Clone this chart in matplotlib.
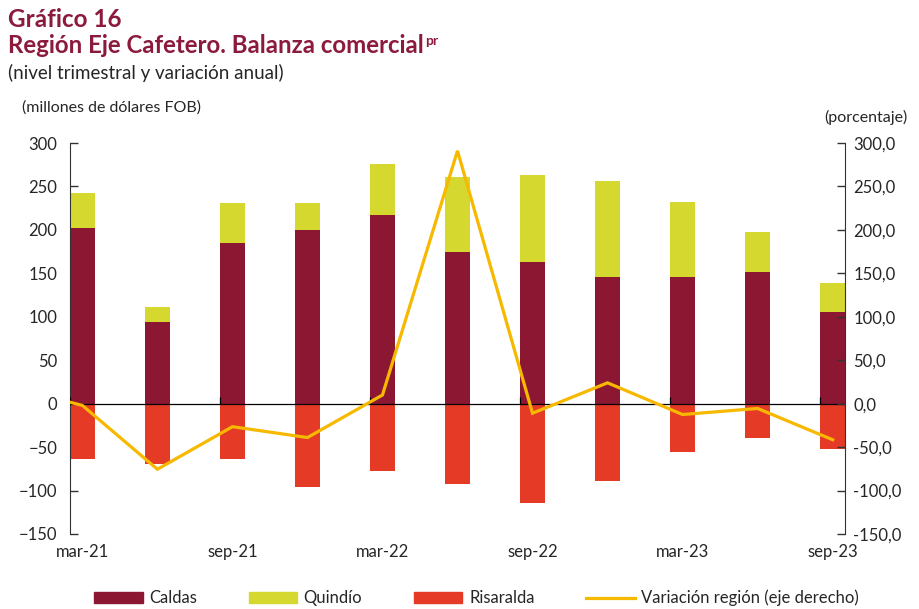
import matplotlib
matplotlib.use('Agg')
import matplotlib.pyplot as plt
from matplotlib.patches import Patch
from matplotlib.lines import Line2D
import numpy as np

# datos
trimestres = ['mar-21', 'jun-21', 'sep-21', 'dic-21', 'mar-22', 'jun-22',
              'sep-22', 'dic-22', 'mar-23', 'jun-23', 'sep-23']
etiquetas = ['mar-21', '', 'sep-21', '', 'mar-22', '',
             'sep-22', '', 'mar-23', '', 'sep-23']
caldas = [202, 94, 185, 200, 217, 175, 163, 146, 146, 152, 105]
quindio = [41, 17, 46, 31, 59, 86, 100, 110, 86, 46, 34]
risaralda = [-64, -69, -64, -96, -78, -92, -114, -89, -56, -39, -52]
# variacion anual, con dic-20 (queda fuera del rango visible)
variacion = [20, -2, -75.5, -26.5, -39, 10, 291, -11, 24, -12.5, -5.5, -41.5]

c_caldas = '#8C1733'
c_quindio = '#D5D92F'
c_risaralda = '#E43A26'
c_linea = '#F7B900'
c_titulo = '#8C1A3C'
c_texto = '#262626'

plt.rcParams['font.family'] = ['Lato', 'DejaVu Sans']

fig = plt.figure(figsize=(9.2, 6.09), dpi=100)
ax = fig.add_axes([70/920, (609-534)/609, 775/920, 391/609])

x = np.arange(len(trimestres))
w = 0.33
ax.bar(x, caldas, w, color=c_caldas, zorder=2)
ax.bar(x, quindio, w, bottom=caldas, color=c_quindio, zorder=2)
ax.bar(x, risaralda, w, color=c_risaralda, zorder=2)
ax.axhline(0, color='black', lw=0.9, zorder=3)
ax.vlines(x[::2] - w/2, 0, 8, color='black', lw=0.9, zorder=3)

ax.set_xlim(-w/2, x[-1] + w/2)
ax.set_ylim(-150, 300)
ax.set_yticks(range(-150, 301, 50))
ax.set_xticks(x)
ax.set_xticklabels(etiquetas)
ax.tick_params(axis='x', length=0, pad=7, labelsize=12, labelcolor=c_texto)
ax.tick_params(axis='y', direction='in', length=6, width=1, pad=9,
               labelsize=12, labelcolor=c_texto, color='#333333')
for s in ['top', 'right', 'bottom']:
    ax.spines[s].set_visible(False)
ax.spines['left'].set_color('#333333')

ax2 = ax.twinx()
ax2.plot(np.arange(-1, len(trimestres)), variacion, color=c_linea, lw=2.3,
         zorder=4, solid_joinstyle='miter')
ax2.set_xlim(-w/2, x[-1] + w/2)
ax2.set_ylim(-150, 300)
ax2.set_yticks(range(-150, 301, 50))
ax2.set_yticklabels(['{:.1f}'.format(v).replace('.', ',') for v in range(-150, 301, 50)])
ax2.tick_params(axis='y', direction='in', length=6, width=1, pad=6,
                labelsize=12, labelcolor=c_texto, color='#333333')
for s in ['top', 'left', 'bottom']:
    ax2.spines[s].set_visible(False)
ax2.spines['right'].set_color('#333333')

# titulos
fig.text(8/920, 1 - 27/609, 'Gráfico 16', fontsize=17.5, fontweight='bold',
         color=c_titulo, va='baseline')
t2 = fig.text(8/920, 1 - 53/609, 'Región Eje Cafetero. Balanza comercial',
              fontsize=17.3, fontweight='bold', color=c_titulo, va='baseline')
fig.canvas.draw()
bb = t2.get_window_extent()
fig.text(bb.x1/920 + 0.002, 1 - 45/609, 'pr', fontsize=10, fontweight='bold',
         color=c_titulo, va='baseline')
fig.text(8/920, 1 - 79/609, '(nivel trimestral y variación anual)',
         fontsize=13.5, color=c_texto, va='baseline')
fig.text(22/920, 1 - 112/609, '(millones de dólares FOB)',
         fontsize=11.5, color=c_texto, va='baseline')
fig.text(908/920, 1 - 122/609, '(porcentaje)',
         fontsize=11.5, color=c_texto, va='baseline', ha='right')

handles = [Patch(color=c_caldas), Patch(color=c_quindio),
           Patch(color=c_risaralda), Line2D([], [], color=c_linea, lw=2.3)]
nombres = ['Caldas', 'Quindío', 'Risaralda', 'Variación región (eje derecho)']
fig.legend(handles, nombres, loc='center', bbox_to_anchor=(0.518, 1 - 598/609),
           ncol=4, frameon=False, fontsize=12, handlelength=2.9,
           handleheight=0.6, handletextpad=0.4, columnspacing=3.1,
           labelcolor=c_texto)

fig.savefig('out.png', dpi=100)
